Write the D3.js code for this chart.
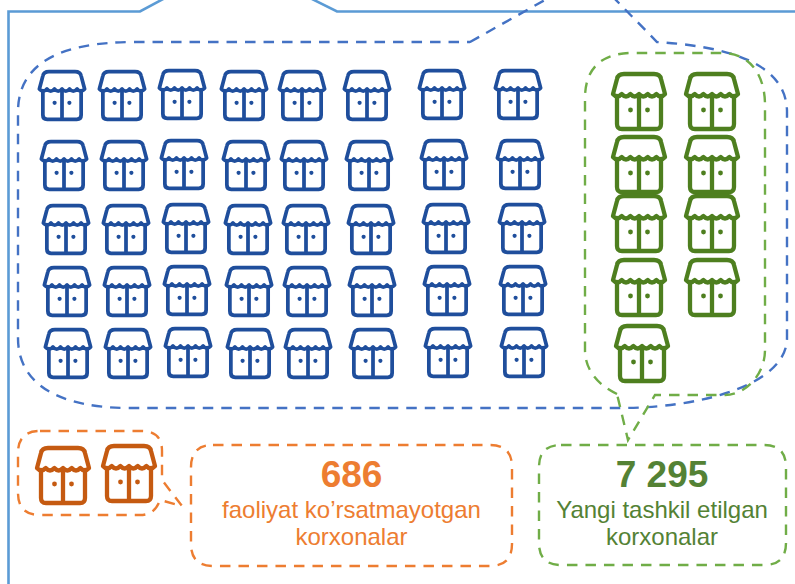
<!DOCTYPE html>
<html>
<head>
<meta charset="utf-8">
<script src="https://cdnjs.cloudflare.com/ajax/libs/d3/7.8.5/d3.min.js"></script>
<style>
  html, body { margin: 0; padding: 0; background: #fff; }
  svg { display: block; }
  text { font-family: "Liberation Sans", Arial, sans-serif; text-anchor: middle; }
</style>
</head>
<body>
<div id="chart"></div>
<script>
// pictogram data
var groups = ["active", "new", "inactive"];
var iconCounts = [40, 9, 2];
var iconColumns = [8, 2, 2];
var groupValues = ["", "7 295", "686"];
var groupLabels = [[], ["Yangi tashkil etilgan", "korxonalar"], ["faoliyat ko\u2019rsatmayotgan", "korxonalar"]];

var width = 795, height = 584;

var svg = d3.select("#chart").append("svg")
    .attr("width", width)
    .attr("height", height);

// colours per group
var iconColor = d3.scaleOrdinal().domain(groups).range(["#1f4e9c", "#4e7f1f", "#c55a11"]);
var dashColor = d3.scaleOrdinal().domain(groups).range(["#4472c4", "#70ad47", "#ed7d31"]);
var textColor = d3.scaleOrdinal().domain(groups).range(["#4472c4", "#548235", "#ed7d31"]);
var iconScale = d3.scaleOrdinal().domain(groups).range([0.87, 1, 1]);

// the icons sit on a slightly uneven grid in the original
var gridX = {
    active: d3.scaleLinear().domain([0, 1, 2, 3, 4, 5, 6, 7]).range([62, 122, 182, 244, 302, 367, 442, 518]),
    new: d3.scaleLinear().domain([0, 1]).range([639, 712]),
    inactive: d3.scaleLinear().domain([0, 1]).range([63, 129])
};
var gridY = {
    active: d3.scaleLinear().domain([0, 1, 2, 3, 4]).range([95, 165, 229, 291, 353]),
    new: d3.scaleLinear().domain([0, 1, 2, 3, 4]).range([101, 164, 223, 287, 353]),
    inactive: d3.scaleLinear().domain([0, 1]).range([475, 475])
};
var rowDrift = {
    active: d3.scaleLinear().domain([0, 1, 2, 4]).range([0, 2, 4, 6]),
    new: d3.scaleLinear().domain([0, 3, 4]).range([0, 0, 3]),
    inactive: d3.scaleLinear().domain([0, 1]).range([0, 0])
};
var colDrift = {
    active: d3.scaleOrdinal().domain([0, 1, 2, 3, 4, 5, 6, 7]).range([0, 0, -1, 0, 0, 0, -1, -1]),
    new: d3.scaleOrdinal().domain([0, 1]).range([0, 0]),
    inactive: d3.scaleOrdinal().domain([0, 1]).range([0, -2])
};

// outer frame, cut off by the top of the picture
var frame = d3.path();
frame.moveTo(8.5, 584);
frame.lineTo(8.5, 11.5);
frame.lineTo(140, 11.5);
frame.lineTo(165, -2);
frame.moveTo(310, -2);
frame.lineTo(337, 11.5);
frame.lineTo(795, 11.5);
svg.append("path")
    .attr("d", frame.toString())
    .attr("fill", "none")
    .attr("stroke", "#5b9bd5")
    .attr("stroke-width", 2.6);

// bubble outlines
function bubble(key, d) {
    svg.append("path")
        .attr("d", d)
        .attr("fill", "none")
        .attr("stroke", dashColor(key))
        .attr("stroke-width", 2.4)
        .attr("stroke-dasharray", "10.5,8");
}

bubble("active", "M470,42 L552,-4 M612,-4 L657,42 C720,46 787,60 787,112 L787,338 C787,385 700,408 620,408 L130,408 C60,408 18,385 18,338 L18,112 C18,62 62,42 135,42 L470,42");
bubble("new", "M617,394 C598,385 585,370 585,350 L585,98 C585,70 600,53 632,53 L722,53 C750,53 765,75 765,105 L765,350 C765,375 745,395 725,395 L655,395 L628,440 L617,394");
bubble("new", "M561,445 L764,445 Q786,445 786,467 L786,543 Q786,565 764,565 L561,565 Q539,565 539,543 L539,467 Q539,445 561,445");
bubble("inactive", "M40,431 L142,431 Q162,431 162,451 L162,480 L182,506 L160,500 Q155,515 140,515 L40,515 Q18,515 18,493 L18,453 Q18,431 40,431");
bubble("inactive", "M213,445 L490,445 Q512,445 512,467 L512,544 Q512,566 490,566 L213,566 Q191,566 191,544 L191,467 Q191,445 213,445");

// shop icon, drawn around 0,0
function shopIcon(g) {
    var roof = d3.path();
    roof.moveTo(-26, -7);
    roof.lineTo(-22, -22);
    roof.quadraticCurveTo(-21, -27, -15, -27);
    roof.lineTo(15, -27);
    roof.quadraticCurveTo(21, -27, 22, -22);
    roof.lineTo(26, -7);
    var scallopWidth = 52 / 6;
    d3.range(6).forEach(function(i) {
        var x0 = 26 - i * scallopWidth;
        roof.quadraticCurveTo(x0 - scallopWidth / 2, -2, x0 - scallopWidth, -7);
    });
    roof.closePath();

    var body = d3.path();
    body.moveTo(-22, -5);
    body.lineTo(-22, 23);
    body.quadraticCurveTo(-22, 28, -17, 28);
    body.lineTo(17, 28);
    body.quadraticCurveTo(22, 28, 22, 23);
    body.lineTo(22, -5);
    body.moveTo(0, -5);
    body.lineTo(0, 28);

    g.append("path").attr("d", body.toString()).attr("fill", "none");
    g.append("path").attr("d", roof.toString()).attr("fill", "none");
    g.selectAll("circle")
        .data([-8.5, 8.5])
        .enter().append("circle")
        .attr("cx", function(d) { return d; })
        .attr("cy", 9)
        .attr("r", 2.4)
        .attr("stroke", "none");
}

groups.forEach(function(key, k) {
    var cols = iconColumns[k];
    svg.append("g")
        .attr("class", "icons-" + key)
        .selectAll("g")
        .data(d3.range(iconCounts[k]))
        .enter().append("g")
        .attr("transform", function(i) {
            var c = i % cols, r = Math.floor(i / cols);
            var x = gridX[key](c) + rowDrift[key](r);
            var y = gridY[key](r) + colDrift[key](c);
            return "translate(" + x + "," + y + ") scale(" + iconScale(key) + ")";
        })
        .attr("stroke", iconColor(key))
        .attr("fill", iconColor(key))
        .attr("stroke-width", 4.3)
        .attr("stroke-linejoin", "round")
        .attr("stroke-linecap", "round")
        .each(function() { shopIcon(d3.select(this)); });
});

// captions
var captionX = d3.scaleOrdinal().domain(groups).range([0, 662, 351.5]);

groups.forEach(function(key, k) {
    if (!groupValues[k]) return;
    svg.append("text")
        .attr("x", captionX(key))
        .attr("y", 487)
        .attr("font-size", 37)
        .attr("font-weight", "bold")
        .attr("fill", textColor(key))
        .text(groupValues[k]);
    svg.selectAll(null)
        .data(groupLabels[k])
        .enter().append("text")
        .attr("x", captionX(key))
        .attr("y", function(d, i) { return 518 + i * 27; })
        .attr("font-size", 24)
        .attr("fill", textColor(key))
        .text(function(d) { return d; });
});
</script>
</body>
</html>
